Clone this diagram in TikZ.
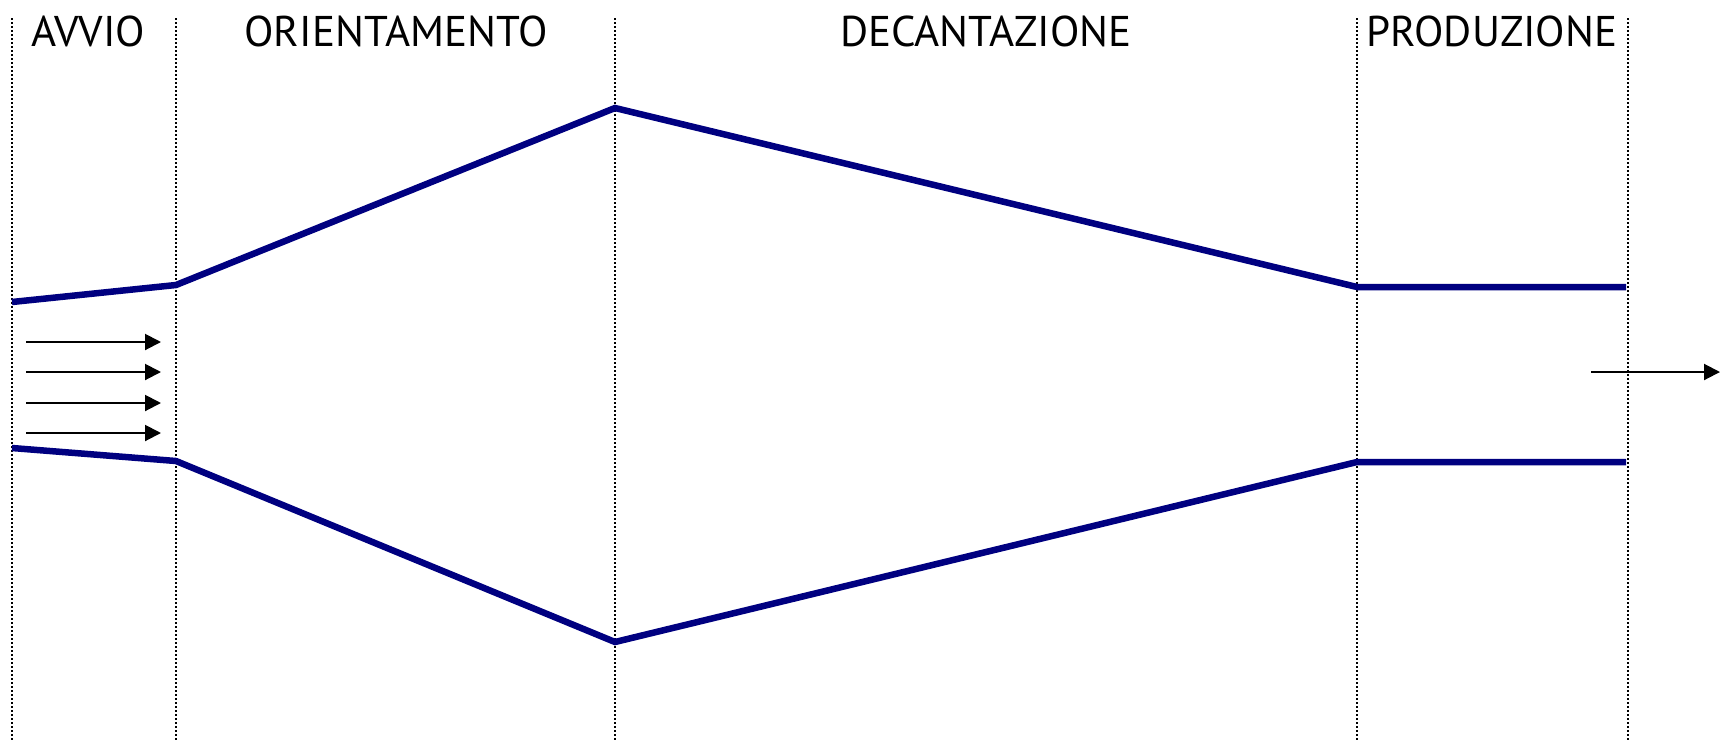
\documentclass[tikz,border=0pt]{standalone}
\usepackage{fontspec}
\setmainfont{PT Sans}
\usetikzlibrary{arrows.meta}
\definecolor{navyline}{RGB}{0,0,128}

\begin{document}
\begin{tikzpicture}[x=1pt,y=-1pt,
  every node/.style={font=\fontsize{43}{48}\selectfont, inner sep=0pt},
  phase/.style={line width=2pt, dash pattern=on 2pt off 2pt},
  wall/.style={line width=6.5pt, draw=navyline},
  flow/.style={line width=2pt, -{Triangle[length=16pt,width=16pt]}}]
\useasboundingbox (0,0) rectangle (1720,740);
% phase boundaries
\foreach \x/\n in {12/b0,176/b1,615/b2,1357/b3,1628/b4}
  \draw[phase] (\x,18) coordinate (\n) -- (\x,740);
% phase names
\node[anchor=base] (avvio) at (88,46) {AVVIO};
\node[anchor=base] (orient) at (396,46) {ORIENTAMENTO};
\node[anchor=base] (decant) at (986,46) {DECANTAZIONE};
\node[anchor=base] (prod) at (1492,46) {PRODUZIONE};
% channel walls
\coordinate (u0) at (12,302);
\coordinate (u1) at (176,285);
\coordinate (u2) at (615,108);
\coordinate (u3) at (1357,287);
\coordinate (u4) at (1626,287);
\coordinate (l0) at (12,448);
\coordinate (l1) at (176,461);
\coordinate (l2) at (615,642);
\coordinate (l3) at (1357,462);
\coordinate (l4) at (1626,462);
\draw[wall] (u0) -- (u1) -- (u2) -- (u3) -- (u4);
\draw[wall] (l0) -- (l1) -- (l2) -- (l3) -- (l4);
% inflow
\foreach \y [count=\i] in {342,372,403,433} {
  \coordinate (in\i) at (26,\y);
  \coordinate (to\i) at (161,\y);
  \draw[flow] (in\i) -- (to\i);
}
% outflow
\coordinate (out) at (1591,372);
\coordinate (end) at (1720,372);
\draw[flow] (out) -- (end);
\end{tikzpicture}
\end{document}
